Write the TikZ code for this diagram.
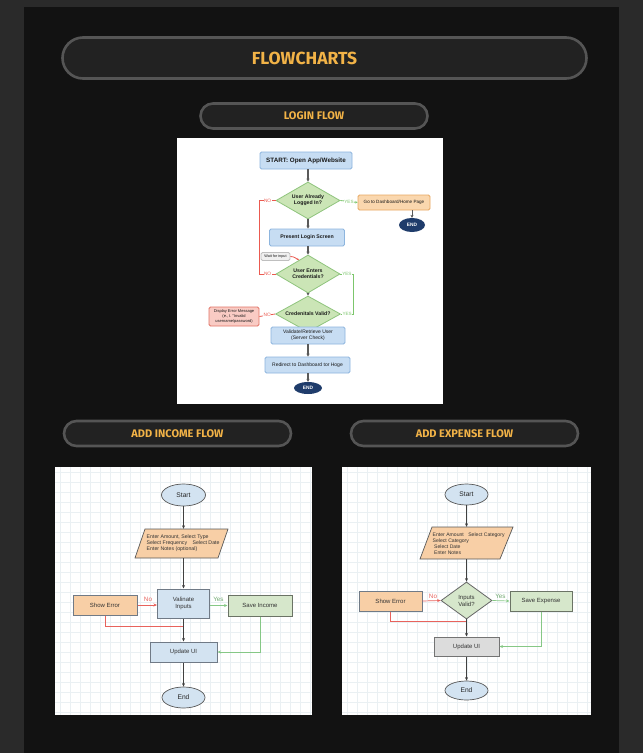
\documentclass[tikz,border=0pt]{standalone}
\usepackage{fontspec}
\setmainfont{Liberation Sans}
\newfontfamily\headfont{Fira Sans}
\usetikzlibrary{shapes.geometric,arrows.meta,calc}
\definecolor{outerbg}{HTML}{2A2A2A}
\definecolor{panelbg}{HTML}{121212}
\definecolor{pillfill}{HTML}{222222}
\definecolor{pillborder}{HTML}{555555}
\definecolor{headorange}{HTML}{F2B347}
\definecolor{lblue}{HTML}{C7DDF3}
\definecolor{lblueb}{HTML}{8DB5DE}
\definecolor{lgreen}{HTML}{CBE5B6}
\definecolor{lgreenb}{HTML}{8FC47D}
\definecolor{lorange}{HTML}{FAD7AE}
\definecolor{lorangeb}{HTML}{E8A862}
\definecolor{lred}{HTML}{F9CBC4}
\definecolor{lredb}{HTML}{E27466}
\definecolor{navy}{HTML}{1F3C6B}
\definecolor{redline}{HTML}{EB5A50}
\definecolor{greenline}{HTML}{7CC66C}
\definecolor{arrowgray}{HTML}{5A5A5A}
\definecolor{gridc}{HTML}{EAF0F3}
\definecolor{fblue}{HTML}{D3E3F1}
\definecolor{forange}{HTML}{F8CFA6}
\definecolor{fgreen}{HTML}{D6E7CB}
\definecolor{fgray}{HTML}{DCDCDC}
\definecolor{fborder}{HTML}{707A86}
\definecolor{ired}{HTML}{E8625C}
\definecolor{igreen}{HTML}{86C886}
\newcommand{\myfs}[1]{\fontsize{#1}{#1}\selectfont}
\begin{document}
\begin{tikzpicture}[x=1pt,y=-1pt,
  pill/.style={draw=pillborder, line width=2.6pt, fill=pillfill, inner sep=0},
  headtext/.style={text=headorange, inner sep=0, font=\headfont\bfseries\myfs{11}},
  lbox/.style={draw=lblueb, fill=lblue, rounded corners=1.5pt, line width=0.8pt, inner sep=0, align=center, text=black!90},
  ldiam/.style={diamond, aspect=1.8, draw=lgreenb, fill=lgreen, line width=0.8pt, inner sep=0, align=center, text=black!90, font=\bfseries\fontsize{5.2}{6.2}\selectfont},
  lend/.style={ellipse, fill=navy, text=white, inner sep=0, font=\bfseries\myfs{4.8}},
  larrow/.style={draw=arrowgray, line width=1.2pt, -{Stealth[length=3pt,width=3.2pt]}},
  lrl/.style={draw=redline, line width=0.8pt},
  lgl/.style={draw=greenline, line width=0.8pt},
  lno/.style={text=redline, fill=white, inner sep=0.4pt, font=\myfs{4.8}},
  lyes/.style={text=greenline, fill=white, inner sep=0.4pt, font=\myfs{4.6}},
  fbox/.style={draw=fborder, line width=1pt, inner sep=0, align=center, text=black!80, font=\fontsize{6}{7.2}\selectfont},
  fell/.style={ellipse, draw=black!65, line width=0.7pt, fill=fblue, inner sep=0, text=black!85, font=\myfs{6.7}},
  farrow/.style={draw=black!75, line width=0.7pt, -{Stealth[length=3.5pt,width=3pt]}},
  fno/.style={draw=ired, line width=0.7pt},
  fyes/.style={draw=igreen, line width=0.7pt},
  flabno/.style={text=ired, inner sep=0, font=\myfs{6.3}},
  flabyes/.style={text=igreen!85!black, inner sep=0, font=\myfs{6.3}},
  ptext/.style={inner sep=0, align=left, text=black!80, font=\fontsize{5.1}{6}\selectfont},
  phold/.style={inner sep=0, draw=none}
]
\useasboundingbox (0,0) rectangle (643,753);
\fill[outerbg] (0,0) rectangle (643,753);
\fill[panelbg] (24,7) rectangle (619,753);

% ---------- headings ----------
\node[pill, minimum width=524, minimum height=41, rounded corners=20.5pt] (title) at (324.5,58) {};
\node[headtext, font=\headfont\bfseries\myfs{17.5}] (titletext) at (304.5,58.5) {FLOWCHARTS};
\node[pill, minimum width=227, minimum height=25, rounded corners=12.5pt, headtext] (loginh) at (314,116) {LOGIN FLOW};
\node[pill, minimum width=227, minimum height=25, rounded corners=12.5pt, headtext] (incomeh) at (177.5,433.5) {ADD INCOME FLOW};
\node[pill, minimum width=227, minimum height=25, rounded corners=12.5pt, headtext] (expenseh) at (464.5,433.5) {ADD EXPENSE FLOW};

% ---------- login flow ----------
\fill[white] (177,138) rectangle (443,404);
\node[lbox, minimum width=92, minimum height=17, font=\bfseries\myfs{6.3}] (start) at (306,160.5) {START: Open App/Website};
\node[ldiam, minimum width=64, minimum height=37] (d1) at (308,200.5) {User Already\\Logged In?};
\node[lbox, draw=lorangeb, fill=lorange, minimum width=72, minimum height=15, font=\myfs{4.6}] (dash) at (394,202.5) {Go to Dashboard/Home Page};
\node[lend, minimum width=26, minimum height=14] (end1) at (412,225) {END};
\node[lbox, minimum width=75, minimum height=17, font=\bfseries\myfs{5.2}] (present) at (307,237.5) {Present Login Screen};
\node[ldiam, minimum width=64, minimum height=38] (d2) at (308,274) {User Enters\\Credentials?};
\node[lbox, draw=black!25, fill=black!6, minimum width=29, minimum height=8, font=\myfs{3.8}] (wait) at (275.5,256.5) {Wait for input};
\node[ldiam, minimum width=65, minimum height=36] (d3) at (308,314) {Credenitals Valid?};
\node[lbox, draw=lredb, fill=lred, minimum width=50, minimum height=19, font=\fontsize{4}{5}\selectfont] (err) at (234,316.5) {Display Error Message\\(e., I. "Invalid\\username/password)};
\node[lbox, minimum width=74, minimum height=17, font=\fontsize{5}{6.2}\selectfont] (valid) at (308,335.5) {Validate/Retrieve User\\(Server Check)};
\node[lbox, minimum width=85, minimum height=16, font=\myfs{5}] (redir) at (307.5,365) {Redirect to Dashboard tor Hoge};
\node[lend, minimum width=28, minimum height=12] (end2) at (308,388) {END};

\draw[larrow] (start.south -| d1.north) -- (d1.north);
\draw[larrow] (d1.south) -- (d1.south |- present.north);
\draw[larrow] (present.south -| d2.north) -- (d2.north);
\draw[larrow] (d2.south) -- (d3.north);
\draw[larrow] (valid.south) -- (valid.south |- redir.north);
\draw[larrow] (redir.south -| end2.north) -- (end2.north);
\draw[larrow, line width=0.8pt] (dash.south -| end1.north) -- (end1.north);
\draw[lgl, -{Stealth[length=2.5pt,width=2.5pt]}] (d1.east) -- node[lyes] {YES} (dash.west);
\draw[lrl] (d1.west) -- node[lno] {NO} ++(-16,0) |- node[lno, pos=0.75] {NO} (d2.west);
\draw[lgl] (d2.east) -- node[lyes] {YES} ++(13,0) |- node[lyes, pos=0.75] {YES} (d3.east);
\draw[lrl] (d3.west) -- node[lno] {NO} (err.east);
\draw[lrl, -{Stealth[length=2.2pt,width=2.2pt]}] (wait.east) to[out=0, in=150] ($(d2.north)!0.28!(d2.west)$);

% ---------- add income flow ----------
\fill[white] (55,467) rectangle (312,715);
\foreach \gx in {60,70,...,310} \draw[gridc, line width=0.35pt] (\gx,467) -- (\gx,715);
\foreach \gy in {472,482,...,712} \draw[gridc, line width=0.35pt] (55,\gy) -- (312,\gy);

\node[fell, minimum width=44, minimum height=22] (istart) at (183.5,495) {Start};
\draw[fill=forange, draw=black!65, line width=0.7pt] (135,558) -- (218,558) -- (228,529) -- (145,529) -- cycle;
\node[phold, minimum width=83, minimum height=29] (iin) at (183.5,543.5) {};
\node[ptext, anchor=west, font=\fontsize{5.2}{6}\selectfont] (iintext) at (146.5,543.5) {Enter Amount, Select Type\\Select Frequency\hspace{4pt} Select Date\\Enter Notes (optional)};
\node[fbox, fill=fblue, minimum width=52, minimum height=29] (ival) at (183.5,603.5) {Valinate\\Inputs};
\node[fbox, fill=forange, minimum width=64, minimum height=20] (ierr) at (105,605) {Show Error};
\node[fbox, fill=fgreen, draw=black!50!fgreen, minimum width=64, minimum height=21] (isave) at (260,605.5) {Save Income};
\node[fbox, fill=fblue, minimum width=67, minimum height=20] (iupd) at (183.5,652) {Update UI};
\node[fell, minimum width=43, minimum height=21] (iend) at (183.5,697.5) {End};
\coordinate (ijoin) at (183.5,626);

\draw[farrow] (istart.south) -- (iin.north);
\draw[farrow] (iin.south) -- (ival.north);
\draw[fno, -{Stealth[length=3.5pt,width=3pt]}] (ierr.east) -- (ierr.east -| ival.west);
\node[flabno] (ino) at (148,599.5) {No};
\draw[fyes, -{Stealth[length=3.5pt,width=3pt]}] (ival.east |- isave.west) -- (isave.west);
\node[flabyes] (iyes) at (218.5,599.5) {Yes};
\draw[fno] (ierr.south) |- (ijoin);
\draw[farrow] (ival.south) -- (iupd.north);
\draw[fyes, -{Stealth[length=3.5pt,width=3pt]}] (isave.south) |- (iupd.east);
\draw[farrow] (iupd.south) -- (iend.north);

% ---------- add expense flow ----------
\fill[white] (342,467) rectangle (591,715);
\foreach \gx in {347,357,...,587} \draw[gridc, line width=0.35pt] (\gx,467) -- (\gx,715);
\foreach \gy in {472,482,...,712} \draw[gridc, line width=0.35pt] (342,\gy) -- (591,\gy);

\node[fell, minimum width=43, minimum height=21] (estart) at (466.5,494.5) {Start};
\draw[fill=forange, draw=black!65, line width=0.7pt] (420,559) -- (500,559) -- (513,527) -- (432,527) -- cycle;
\node[phold, minimum width=85, minimum height=32] (ein) at (466.5,543) {};
\node[ptext, anchor=west] (eintext) at (432.5,544) {Enter Amount\hspace{3pt} Select Category\\Select Category\\\hspace{1.5pt}Select Date\\\hspace{1.5pt}Enter Notes};
\node[diamond, aspect=1.4, draw=black!60, line width=0.8pt, fill=fgreen, inner sep=0, minimum width=51, minimum height=37, align=center, text=black!80, font=\fontsize{6}{7}\selectfont] (ediam) at (466.5,600.5) {Inputs\\Valid?};
\node[fbox, fill=forange, minimum width=63, minimum height=20] (eerr) at (390.5,601) {Show Error};
\node[fbox, fill=fgreen, draw=black!50!fgreen, minimum width=62, minimum height=20] (esave) at (541,601) {Save Expense};
\node[fbox, fill=fgray, draw=black!55, minimum width=65, minimum height=19] (eupd) at (466.5,646.5) {Update UI};
\node[fell, minimum width=43, minimum height=19] (eend) at (466.5,690.5) {End};
\coordinate (ejoin) at (466.5,621);

\draw[farrow] (estart.south) -- (ein.north);
\draw[farrow] (ein.south) -- (ediam.north);
\draw[fno, -{Stealth[length=3.5pt,width=3pt]}] (eerr.east) -- (ediam.west);
\node[flabno] (eno) at (433,596) {No};
\draw[fyes, -{Stealth[length=3.5pt,width=3pt]}] (ediam.east) -- (esave.west);
\node[flabyes] (eyes) at (500.5,596) {Yes};
\draw[fno] (eerr.south) |- (ejoin);
\draw[farrow] (ediam.south) -- (eupd.north);
\draw[fyes, -{Stealth[length=3.5pt,width=3pt]}] (esave.south) |- (eupd.east);
\draw[farrow] (eupd.south) -- (eend.north);
\end{tikzpicture}
\end{document}
